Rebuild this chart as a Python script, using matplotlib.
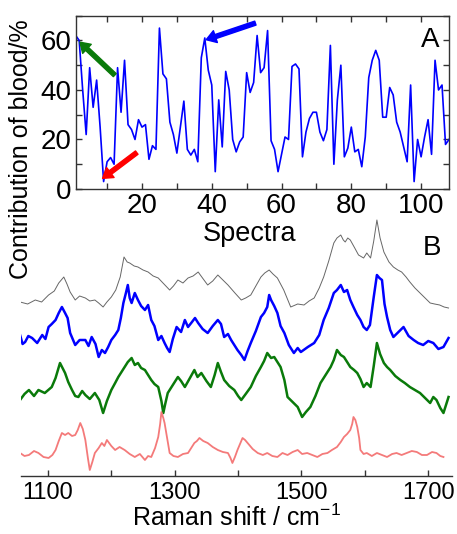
import matplotlib
matplotlib.use("Agg")
import matplotlib.pyplot as plt
from matplotlib.ticker import MultipleLocator, FixedLocator
import numpy as np

plt.rcParams['font.family'] = ['Liberation Sans', 'DejaVu Sans']
plt.rcParams['mathtext.default'] = 'regular'

# ---------------- Panel A data ----------------
spectrum_index = list(range(1, 109))
blood_contribution = [
    62, 60, 40, 22, 49, 33, 44, 25, 3, 11,
    12.7, 10, 49, 31, 52, 26, 24, 20, 28, 25,
    26, 12, 17.5, 16, 65, 46.5, 44.5, 27, 22, 14.5,
    25, 35.5, 16, 13.7, 16, 11, 53, 61, 48, 42,
    7, 36, 17, 47.5, 40, 20, 15, 19, 21, 47,
    39, 43, 62, 47, 49, 64, 19.5, 16, 7, 14,
    21, 20, 49.5, 50.5, 48.5, 13, 23, 28.5, 31, 31,
    23, 19.5, 24, 58, 10, 36, 50, 13, 16.5, 25,
    15, 16, 9, 21, 45, 52, 56, 52, 29, 29,
    41, 38, 27, 23, 17, 11, 42, 3, 20, 13,
    21, 28, 14, 52, 40, 42, 18, 20,
]

# arrows: (tail_x, tail_y, head_x, head_y)
arrow_green = (12.2, 46, 2.2, 59.3)
arrow_red = (18.5, 14.7, 8.7, 4.3)
arrow_blue = (52.5, 67, 38.4, 60.3)

# ---------------- Panel B data (offset intensities, a.u.) ----------------
gray_x = [1056, 1068, 1080, 1090, 1101, 1110, 1117, 1125, 1130, 1135, 1143, 1150, 1159,
          1166, 1174, 1180, 1187, 1193, 1200, 1207, 1214, 1220, 1225, 1229, 1236, 1242,
          1250, 1258, 1266, 1274, 1283, 1292, 1298, 1305, 1313, 1321, 1329, 1337, 1345,
          1352, 1360, 1368, 1376, 1384, 1395, 1405, 1412, 1420, 1428, 1436, 1442, 1449,
          1455, 1462, 1472, 1483, 1494, 1504, 1512, 1520, 1528, 1535, 1543, 1551, 1556,
          1562, 1566, 1569, 1573, 1577, 1584, 1590, 1598, 1603, 1609, 1614, 1619, 1624,
          1630, 1638, 1645, 1652, 1658, 1665, 1671, 1679, 1687, 1695, 1703, 1710, 1718,
          1725, 1732]
gray_y = [174, 172, 176, 174, 181, 185, 193, 199, 192, 184, 176, 180, 178,
          175, 176, 173, 169, 174, 179, 186, 199, 219, 214, 213, 210, 209,
          206, 204, 200, 198, 192, 186, 190, 196, 193, 198, 200, 204, 197,
          191, 195, 201, 196, 191, 183, 176, 178, 181, 190, 199, 203, 206,
          202, 198, 186, 169, 172, 171, 175, 178, 188, 199, 215, 233, 238,
          241, 236, 234, 238, 236, 228, 221, 218, 223, 218, 235, 256, 238,
          224, 214, 209, 206, 204, 199, 194, 188, 183, 178, 173, 172, 171,
          169, 168]

blue_x = [1056, 1060, 1064, 1069, 1075, 1083, 1091, 1096, 1101, 1106, 1112, 1117, 1122,
          1127, 1131, 1135, 1143, 1150, 1159, 1164, 1169, 1175, 1180, 1185, 1190, 1195,
          1200, 1206, 1211, 1215, 1219, 1223, 1226, 1229, 1232, 1237, 1242, 1247, 1253,
          1258, 1263, 1268, 1274, 1279, 1284, 1288, 1292, 1297, 1303, 1310, 1316, 1321,
          1326, 1332, 1337, 1344, 1352, 1360, 1368, 1373, 1378, 1384, 1389, 1394, 1399,
          1405, 1410, 1415, 1420, 1428, 1436, 1441, 1446, 1449, 1452, 1457, 1462, 1467,
          1473, 1480, 1488, 1494, 1499, 1510, 1520, 1528, 1535, 1543, 1551, 1556, 1562,
          1567, 1572, 1577, 1582, 1588, 1593, 1598, 1603, 1608, 1614, 1619, 1623, 1627,
          1631, 1635, 1640, 1645, 1653, 1661, 1669, 1677, 1684, 1692, 1700, 1708, 1716,
          1724, 1732]
blue_y = [141, 132, 134, 140, 138, 133, 141, 137, 149, 152, 156, 163, 169,
          163, 158, 143, 131, 136, 136, 130, 139, 132, 119, 126, 123, 129,
          136, 141, 146, 158, 173, 183, 191, 178, 173, 183, 176, 170, 166,
          171, 156, 150, 136, 140, 133, 128, 124, 137, 149, 144, 156, 149,
          153, 158, 153, 147, 143, 150, 156, 152, 139, 142, 136, 131, 126,
          121, 116, 125, 133, 145, 159, 163, 169, 181, 176, 170, 163, 150,
          143, 131, 123, 128, 124, 129, 133, 141, 156, 168, 183, 186, 191,
          184, 186, 176, 169, 161, 156, 149, 146, 151, 179, 201, 198, 196,
          172, 159, 146, 139, 144, 149, 140, 136, 133, 131, 135, 133, 127,
          129, 138]

green_x = [1056, 1063, 1070, 1078, 1085, 1095, 1106, 1112, 1119, 1123, 1127, 1132, 1138,
           1143, 1148, 1154, 1159, 1166, 1174, 1181, 1187, 1193, 1200, 1206, 1211, 1216,
           1221, 1226, 1232, 1237, 1242, 1247, 1253, 1258, 1263, 1268, 1274, 1279, 1282,
           1285, 1289, 1297, 1305, 1310, 1316, 1324, 1331, 1336, 1342, 1350, 1357, 1363,
           1368, 1373, 1378, 1386, 1394, 1400, 1405, 1412, 1420, 1428, 1436, 1441, 1446,
           1452, 1457, 1462, 1467, 1473, 1478, 1486, 1494, 1501, 1507, 1514, 1522, 1530,
           1538, 1546, 1551, 1556, 1562, 1567, 1572, 1577, 1583, 1588, 1593, 1598, 1603,
           1609, 1614, 1619, 1624, 1630, 1635, 1640, 1648, 1656, 1663, 1671, 1679, 1687,
           1695, 1703, 1708, 1713, 1719, 1724, 1732]
green_y = [76, 82, 86, 80, 86, 83, 89, 98, 113, 108, 103, 94, 86,
           80, 79, 85, 81, 77, 83, 76, 63, 75, 86, 93, 99, 104,
           109, 114, 118, 111, 113, 108, 106, 101, 96, 92, 89, 75, 63,
           72, 83, 91, 99, 95, 89, 98, 106, 99, 103, 95, 89, 101,
           113, 104, 96, 90, 86, 80, 76, 82, 89, 100, 109, 115, 123,
           118, 119, 114, 109, 96, 79, 74, 69, 59, 64, 69, 80, 93,
           101, 109, 116, 126, 121, 119, 114, 109, 106, 103, 97, 89, 93,
           89, 110, 133, 122, 113, 109, 106, 100, 96, 93, 89, 86, 83,
           78, 73, 79, 76, 68, 63, 79]

red_x = [1056, 1063, 1070, 1078, 1085, 1093, 1101, 1107, 1112, 1117, 1122, 1127, 1132,
         1138, 1143, 1147, 1151, 1155, 1159, 1163, 1166, 1170, 1174, 1180, 1185, 1189,
         1193, 1200, 1206, 1213, 1221, 1229, 1237, 1245, 1253, 1258, 1263, 1269, 1274,
         1277, 1279, 1282, 1284, 1288, 1292, 1298, 1305, 1313, 1321, 1326, 1331, 1335,
         1339, 1345, 1352, 1360, 1368, 1376, 1384, 1388, 1391, 1395, 1399, 1403, 1407,
         1411, 1415, 1423, 1431, 1439, 1446, 1454, 1462, 1470, 1478, 1486, 1494, 1501,
         1509, 1517, 1525, 1533, 1541, 1548, 1556, 1562, 1567, 1572, 1577, 1580, 1582,
         1585, 1588, 1591, 1593, 1598, 1603, 1611, 1619, 1627, 1635, 1643, 1650, 1658,
         1666, 1674, 1682, 1690, 1698, 1706, 1713, 1719, 1724]
red_y = [23, 20, 21, 25, 23, 19, 18, 21, 26, 35, 43, 41, 43,
         40, 41, 46, 53, 47, 36, 18, 6, 14, 23, 28, 33, 30,
         36, 30, 26, 29, 26, 22, 19, 22, 16, 20, 19, 28, 39,
         52, 64, 58, 53, 38, 23, 20, 19, 22, 23, 28, 33, 35,
         38, 35, 33, 29, 26, 24, 23, 18, 13, 19, 26, 32, 38,
         36, 33, 27, 23, 21, 23, 20, 19, 23, 21, 24, 26, 22,
         23, 21, 19, 22, 23, 26, 29, 34, 39, 42, 46, 52, 59,
         56, 49, 38, 26, 22, 23, 20, 23, 21, 19, 22, 23, 21,
         23, 25, 24, 21, 21, 24, 23, 20, 19]

W, H = 457, 534
fig = plt.figure(figsize=(W / 100, H / 100), dpi=100)

FS = 18
TFS = 20
BFS = 17
spine_col = '#333333'

# ---------------- Panel A ----------------
axA = fig.add_axes([75.7 / W, 1 - 189 / H, 373.3 / W, 173.3 / H])
axA.plot(spectrum_index, blood_contribution, color='#0000ff', lw=1.2)
axA.set_xlim(1, 108)
axA.set_ylim(0, 70)
axA.xaxis.set_major_locator(MultipleLocator(20))
axA.xaxis.set_minor_locator(MultipleLocator(10))
axA.yaxis.set_major_locator(MultipleLocator(20))
axA.yaxis.set_minor_locator(MultipleLocator(10))
axA.tick_params(which='both', direction='in', top=True, right=True,
                length=4, width=1, color=spine_col, labelsize=TFS, pad=3)
for s in axA.spines.values():
    s.set_color(spine_col)
    s.set_linewidth(1)

for (tx, ty, hx, hy), c in [(arrow_green, '#0a7a0a'), (arrow_red, '#ff0000'),
                            (arrow_blue, '#0000ff')]:
    axA.annotate('', xy=(hx, hy), xytext=(tx, ty),
                 arrowprops=dict(facecolor=c, edgecolor=c, width=3,
                                 headwidth=9, headlength=7, shrink=0))

fig.text(430 / W, 1 - 40 / H, 'A', fontsize=TFS, ha='center', va='center')

fig.text(250 / W, 1 - 234 / H, 'Spectra', fontsize=19.5, ha='center', va='center')
fig.text(21 / W, 1 - 149 / H, 'Contribution of blood/%', fontsize=FS,
         rotation=90, ha='center', va='center')

# ---------------- Panel B ----------------
axB = fig.add_axes([20.7 / W, 58 / H, 431 / W, 261 / H])
axB.plot(gray_x, gray_y, color='#666666', lw=0.7)
axB.plot(blue_x, blue_y, color='#0000ff', lw=1.8)
axB.plot(green_x, green_y, color='#0a7a0a', lw=1.8)
axB.plot(red_x, red_y, color='#f47a7a', lw=1.3)
axB.set_xlim(1057, 1737)
axB.set_ylim(0, 261)
axB.set_yticks([])
for side in ['left', 'right', 'top']:
    axB.spines[side].set_visible(False)
axB.spines['bottom'].set_color(spine_col)
axB.spines['bottom'].set_linewidth(1)
axB.xaxis.set_major_locator(FixedLocator([1100, 1300, 1500, 1700]))
axB.xaxis.set_minor_locator(FixedLocator([1200, 1400, 1600]))
axB.tick_params(which='both', direction='in', length=4, width=1,
                color=spine_col, labelsize=BFS, pad=4)
axB.set_xlabel('Raman shift / cm$^{-1}$', fontsize=FS, labelpad=1)
axB.patch.set_alpha(0)

fig.text(432 / W, 1 - 248 / H, 'B', fontsize=TFS, ha='center', va='center')

fig.savefig('out.png', dpi=100)
